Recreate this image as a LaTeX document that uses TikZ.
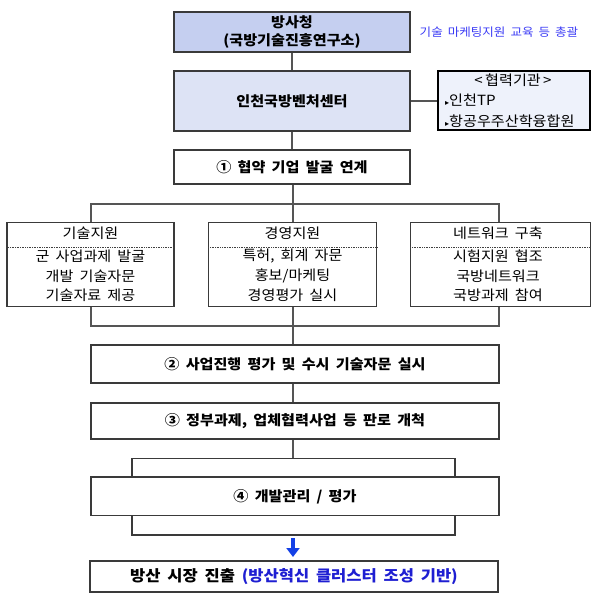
\documentclass[tikz,border=0pt]{standalone}
\usepackage{fontspec}
\setmainfont{Noto Sans CJK KR}[WordSpace=1.8, FakeStretch=1.08]
\newfontfamily\djv{DejaVu Sans}
\usetikzlibrary{backgrounds,arrows.meta}
\definecolor{boxline}{HTML}{3A3A3A}
\definecolor{conn}{HTML}{555555}
\definecolor{topfill}{HTML}{C5CFF0}
\definecolor{midfill}{HTML}{DDE3F5}
\definecolor{partfill}{HTML}{EEF2FB}
\definecolor{notecol}{HTML}{3B3BF5}
\definecolor{finalblue}{HTML}{1E1ED2}
\definecolor{arrowblue}{HTML}{1440E6}
\tikzset{
  mainbox/.style={draw=boxline, line width=1.1pt, fill=white, inner sep=0pt, font=\fontsize{14}{17}\selectfont\bfseries},
  subbox/.style={draw=boxline, line width=1.1pt, fill=white, inner sep=0pt},
  subtxt/.style={inner sep=0pt, font=\fontsize{14}{16}\selectfont},
  partbox/.style={draw=black, line width=2.4pt, fill=partfill, inner sep=0pt},
  parttxt/.style={inner sep=0pt, font=\fontsize{14}{16}\selectfont},
  connector/.style={draw=conn, line width=1.4pt},
}
\newcommand{\tri}{{\djv\fontsize{8}{8}\selectfont ▸}}
\begin{document}
\begin{tikzpicture}[x=1pt,y=-1pt]
\useasboundingbox (0,0) rectangle (600,599);
% top boxes
\node[mainbox, fill=topfill, minimum width=236pt, minimum height=40pt, align=center,
      font=\fontsize{14}{18}\selectfont\bfseries] (dapa) at (292,32) {방사청\\(국방기술진흥연구소)};
\node[inner sep=0pt, text=notecol, font=\fontsize{11.6}{15}\selectfont] (note) at (499,32) {기술 마케팅지원 교육 등 총괄};
\node[mainbox, fill=midfill, minimum width=236pt, minimum height=60pt] (center) at (292,101) {인천국방벤처센터};
\node[partbox, minimum width=152pt, minimum height=59pt] (part) at (514,100.5) {};
\node[parttxt] (parthead) at (513,80) {<\,협력기관\,>};
\node[parttxt, anchor=west] (part1) at (445,100) {\tri 인천TP};
\node[parttxt, anchor=west] (part2) at (445,121) {\tri 항공우주산학융합원};
\node[mainbox, minimum width=236pt, minimum height=34pt] (s1) at (292,167) {① 협약 기업 발굴 연계};
% sub boxes
\node[subbox, minimum width=167pt, minimum height=84pt] (tech) at (90.5,264.7) {};
\node[subbox, minimum width=167.5pt, minimum height=84pt] (mgmt) at (292.5,264.7) {};
\node[subbox, minimum width=179.5pt, minimum height=84pt] (net) at (500.5,264.7) {};
\node[subtxt] (techA) at (90.5,233) {기술지원};
\node[subtxt] (techB) at (90.5,256) {군 사업과제 발굴};
\node[subtxt] (techC) at (90.5,276) {개발 기술자문};
\node[subtxt] (techD) at (90.5,295) {기술자료 제공};
\node[subtxt] (mgmtA) at (292.5,233) {경영지원};
\node[subtxt] (mgmtB) at (292.5,256) {특허, 회계 자문};
\node[subtxt] (mgmtC) at (292.5,276) {홍보/마케팅};
\node[subtxt] (mgmtD) at (292.5,295) {경영평가 실시};
\node[subtxt] (netA) at (498,233) {네트워크 구축};
\node[subtxt] (netB) at (498,256) {시험지원 협조};
\node[subtxt] (netC) at (498,276) {국방네트워크};
\node[subtxt] (netD) at (498,295) {국방과제 참여};
\foreach \b in {tech,mgmt,net}{
  \draw[densely dotted, line width=0.7pt, draw=black!75] (\b.west |- 0,247) -- (\b.east |- 0,247);
}
% lower steps
\node[mainbox, minimum width=408pt, minimum height=38pt] (s2) at (295,364) {② 사업진행 평가 및 수시 기술자문 실시};
\node[mainbox, minimum width=408pt, minimum height=36pt] (s3) at (295,421) {③ 정부과제, 업체협력사업 등 판로 개척};
\node[subbox, minimum width=323pt, minimum height=76.3pt] (s4frame) at (293.5,496.8) {};
\node[mainbox, minimum width=408pt, minimum height=38.7pt] (s4) at (295,496.3) {④ 개발관리 / 평가};
\node[mainbox, minimum width=408pt, minimum height=31pt, font=\fontsize{15.3}{18}\selectfont\bfseries] (final) at (294,576.5) {방산 시장 진출 \textcolor{finalblue}{(방산혁신 클러스터 조성 기반)}};
% connectors
\coordinate (tl) at (91,204);
\coordinate (tr) at (499,204);
\coordinate (bl) at (91,326);
\coordinate (br) at (499,326);
\begin{scope}[on background layer]
  \draw[connector] (dapa.south) -- (center.north);
  \draw[connector] (center.south) -- (s1.north);
  \draw[connector] (center.east) -- (center.east -| part.west);
  \draw[connector] (s1.south -| 293,0) -- (293,345);
  \draw[connector] (tl |- tech.north) -- (tl) -- (tr) -- (tr |- net.north);
  \draw[connector] (bl |- tech.south) -- (bl) -- (br) -- (br |- net.south);
  \draw[connector] (293,383) -- (293,403);
  \draw[connector] (293,439) -- (s4frame.north -| 293,0);
\end{scope}
\coordinate (arrtop) at (293,538);
\coordinate (arrend) at (293,557);
\draw[draw=arrowblue, line width=4pt, -{Triangle[width=13pt,length=9pt]}, arrowblue] (arrtop) -- (arrend);
\end{tikzpicture}
\end{document}
